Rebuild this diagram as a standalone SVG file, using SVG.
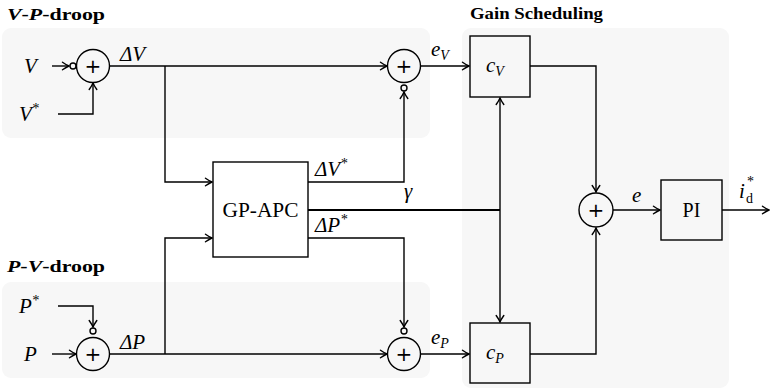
<svg xmlns="http://www.w3.org/2000/svg" width="770" height="392" viewBox="0 0 770 392">
<defs>
<marker id="ar" markerUnits="userSpaceOnUse" viewBox="-8 -5 9 10" markerWidth="9" markerHeight="10" refX="0" refY="0" orient="auto">
<path d="M-6.5,-3.8 Q-2.5,-1 0,0 Q-2.5,1 -6.5,3.8" fill="none" stroke="#000" stroke-width="1.4" stroke-linecap="round"/>
</marker>
<style>
.panel{fill:#f7f7f7;stroke:none}
.blk{fill:none;stroke:#000;stroke-width:1.4}
.c{fill:none;stroke:#000;stroke-width:1.4}
.ln{fill:none;stroke:#000;stroke-width:1.4}
.th{stroke-width:2}
.m{font-family:"Liberation Serif",serif;font-style:italic;font-size:21px;fill:#000}
.sub{font-size:14px}
.r{font-family:"Liberation Serif",serif;font-size:20px;fill:#000}
.small{font-family:"Liberation Serif",serif;font-size:14px;fill:#000}
.plus{font-family:"DejaVu Sans",sans-serif;font-size:20px;fill:#000}
.t{font-family:"Liberation Serif",serif;font-weight:bold;font-size:17px;fill:#000}
</style>
</defs>
<g id="panels">
<rect class="panel" x="2" y="28" width="428" height="110" rx="9"/>
<rect class="panel" x="2" y="282" width="428" height="96" rx="9"/>
<rect class="panel" x="462" y="28" width="267" height="360" rx="9"/>
</g>
<g id="titles">
<text class="t" x="7" y="20" textLength="98" lengthAdjust="spacingAndGlyphs"><tspan font-style="italic">V</tspan>-<tspan font-style="italic">P</tspan>-droop</text>
<text class="t" x="7" y="272" textLength="98" lengthAdjust="spacingAndGlyphs"><tspan font-style="italic">P</tspan>-<tspan font-style="italic">V</tspan>-droop</text>
<text class="t" x="470" y="19" textLength="133" lengthAdjust="spacingAndGlyphs">Gain Scheduling</text>
</g>
<g id="connectors" class="ln">
<path d="M52,66 H69" marker-end="url(#ar)"/>
<path d="M58,114 H93 V83" marker-end="url(#ar)"/>
<path d="M110,66 H387" marker-end="url(#ar)"/>
<path d="M165,66 V182 H212" marker-end="url(#ar)"/>
<path d="M308,182 H404 V92" marker-end="url(#ar)"/>
<path class="th" d="M308,210 H500"/>
<path d="M500,210 V98" marker-end="url(#ar)"/>
<path d="M500,210 V322" marker-end="url(#ar)"/>
<path d="M421,66 H469" marker-end="url(#ar)"/>
<path d="M421,354 H469" marker-end="url(#ar)"/>
<path d="M530,66 H596 V192" marker-end="url(#ar)"/>
<path d="M530,354 H596 V228" marker-end="url(#ar)"/>
<path d="M613,210 H660" marker-end="url(#ar)"/>
<path d="M722,210 H769" marker-end="url(#ar)"/>
<path d="M58,306 H93 V327" marker-end="url(#ar)"/>
<path d="M52,354 H76" marker-end="url(#ar)"/>
<path d="M110,354 H387" marker-end="url(#ar)"/>
<path d="M165,354 V238 H212" marker-end="url(#ar)"/>
<path d="M308,238 H404 V327" marker-end="url(#ar)"/>
</g>
<g id="sum1"><circle class="c" cx="93" cy="66" r="16.5"/><circle class="c" cx="73" cy="66" r="3"/><text class="plus" x="93" y="73" text-anchor="middle">+</text></g>
<g id="sum2"><circle class="c" cx="404" cy="66" r="16.5"/><circle class="c" cx="404" cy="88" r="3"/><text class="plus" x="404" y="73" text-anchor="middle">+</text></g>
<g id="sum3"><circle class="c" cx="93" cy="354" r="16.5"/><circle class="c" cx="93" cy="331" r="3"/><text class="plus" x="93" y="361" text-anchor="middle">+</text></g>
<g id="sum4"><circle class="c" cx="404" cy="354" r="16.5"/><circle class="c" cx="404" cy="331" r="3"/><text class="plus" x="404" y="361" text-anchor="middle">+</text></g>
<g id="sum5"><circle class="c" cx="596" cy="210" r="17"/><text class="plus" x="596" y="217" text-anchor="middle">+</text></g>
<g id="gpapc"><rect class="blk" x="213" y="162" width="95" height="95"/><text class="r" x="260.5" y="217" text-anchor="middle" textLength="76" lengthAdjust="spacingAndGlyphs">GP-APC</text></g>
<g id="cV"><rect class="blk" x="470" y="36" width="60" height="61"/><text class="m" x="486" y="72">c<tspan class="sub" dy="4">V</tspan></text></g>
<g id="cP"><rect class="blk" x="470" y="323" width="60" height="60"/><text class="m" x="486" y="359">c<tspan class="sub" dy="4">P</tspan></text></g>
<g id="PI"><rect class="blk" x="661" y="180" width="61" height="60"/><text class="r" x="691.5" y="217" text-anchor="middle">PI</text></g>
<g id="labels">
<text class="m" x="24" y="73">V</text>
<text class="m" x="19" y="121">V<tspan class="sub" dy="-8">*</tspan></text>
<text class="m" x="19" y="313">P<tspan class="sub" dy="-8">*</tspan></text>
<text class="m" x="24" y="361">P</text>
<text class="m" x="120" y="61">ΔV</text>
<text class="m" x="120" y="349">ΔP</text>
<text class="m" x="315" y="176">ΔV<tspan class="sub" dy="-8">*</tspan></text>
<text class="m" x="315" y="232">ΔP<tspan class="sub" dy="-8">*</tspan></text>
<text class="m" x="404" y="198">γ</text>
<text class="m" x="431" y="56">e<tspan class="sub" dy="4">V</tspan></text>
<text class="m" x="431" y="344">e<tspan class="sub" dy="4">P</tspan></text>
<text class="m" x="632" y="202">e</text>
<text class="m" x="739" y="198">i</text>
<text class="small" x="746" y="203">d</text>
<text class="small" x="747" y="186">*</text>
</g>
</svg>
